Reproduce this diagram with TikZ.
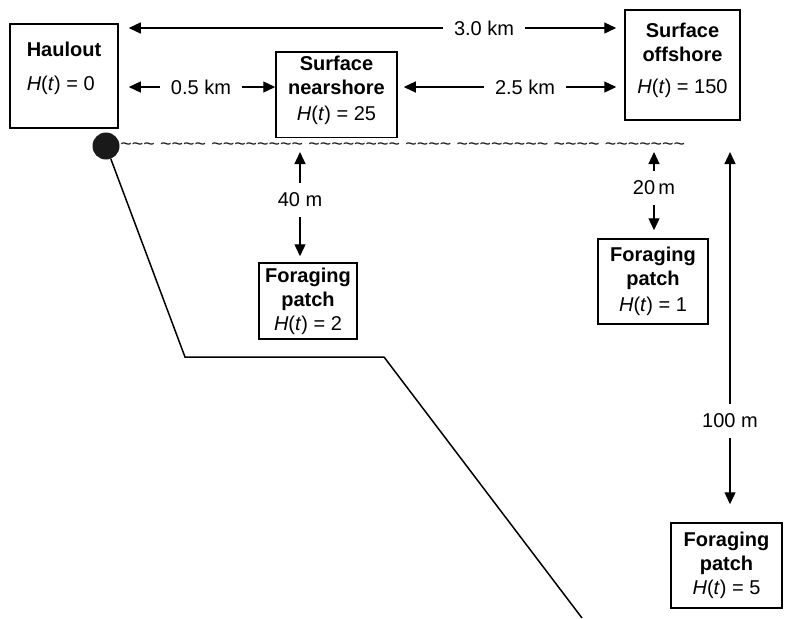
\documentclass[tikz,border=0pt]{standalone}
\usepackage{fontspec}
\setmainfont{Liberation Sans}
\usetikzlibrary{arrows.meta, positioning}

\tikzset{
    patch/.style={draw, line width=0.75pt, inner sep=2pt, align=center},
    dist/.style={inner xsep=5.5pt, inner ysep=5pt},
    gap/.style={-{Triangle[length=6pt,width=5.5pt]}, line width=0.65pt},
}
\newcommand{\Ht}[1]{\textit{H}(\textit{t}) = #1}

\begin{document}
\begin{tikzpicture}[x=0.5pt, y=-0.5pt]
    \useasboundingbox (0,0) rectangle (790,618);

    % places at the surface
    \node[patch, align=left, minimum width=54pt, minimum height=52pt] (haul) at (64,76) {\textbf{Haulout}\\[5pt]\Ht{0}\\[-2pt]\mbox{}};
    \node[patch, minimum width=60.5pt, minimum height=42.5pt] (near) at (336.5,94.5) {\textbf{Surface}\\\textbf{nearshore}\\[1pt]\Ht{25}\\[-5.5pt]\mbox{}};
    \node[patch, minimum width=57.5pt, minimum height=55pt] (off) at (682.5,65) {\textbf{Surface}\\\textbf{offshore}\\[4pt]\Ht{150}\\[-5.5pt]\mbox{}};

    % foraging patches
    \node[patch, minimum width=49pt, minimum height=38pt] (fp2) at (308,301) {\textbf{Foraging}\\\textbf{patch}\\\Ht{2}};
    \node[patch, minimum width=55pt, minimum height=42.5pt] (fp1) at (653,281.5) {\textbf{Foraging}\\\textbf{patch}\\[1pt]\Ht{1}};
    \node[patch, minimum width=55.5pt, minimum height=42.5pt] (fp5) at (726.5,565.5) {\textbf{Foraging}\\\textbf{patch}\\\Ht{5}};

    % sea surface and seabed
    \coordinate (surface) at (0,152);
    \node[anchor=west, inner sep=0pt, text=black!90, font=\fontsize{9.8}{9.8}\selectfont] (sea) at (120,147)
        {\detokenize{~~~ ~~~~ ~~~~~~~~ ~~~~~~~~ ~~~~ ~~~~~~~~ ~~~~ ~~~~~~~}};
    \node[circle, fill=black!90, inner sep=0pt, minimum size=13.5pt] (seal) at (106,146) {};
    \draw[line width=0.75pt] (seal) -- (185,357) -- (384,357) -- (582,618);

    % distances
    \node[dist] (d30) at (484,28) {3.0 km};
    \node[dist] (d05) at (201,87) {0.5 km};
    \node[dist] (d25) at (525,87) {2.5 km};
    \node[dist] (d40) at (300,200) {40 m};
    \node[dist] (d20) at (654,188) {20\,m};
    \node[dist] (d100) at (730,421) {100 m};

    \draw[gap, shorten >=5pt] (d30.west) -- (haul.east |- d30);
    \draw[gap, shorten >=4pt] (d30.east) -- (off.west |- d30);
    \draw[gap, shorten >=5pt] (d05.west) -- (haul.east |- d05);
    \draw[gap] (d05.east) -- (near.west |- d05);
    \draw[gap, shorten >=3pt] (d25.west) -- (near.east |- d25);
    \draw[gap, shorten >=4pt] (d25.east) -- (off.west |- d25);

    \draw[gap] (d40.north) -- (d40 |- surface);
    \draw[gap, shorten >=3pt] (d40.south) -- (d40 |- fp2.north);
    \draw[gap] (d20.north) -- (d20 |- surface);
    \draw[gap, shorten >=4pt] (d20.south) -- (d20 |- fp1.north);
    \draw[gap] (d100.north) -- (d100 |- surface);
    \draw[gap, shorten >=9pt] (d100.south) -- (d100 |- fp5.north);
\end{tikzpicture}
\end{document}
